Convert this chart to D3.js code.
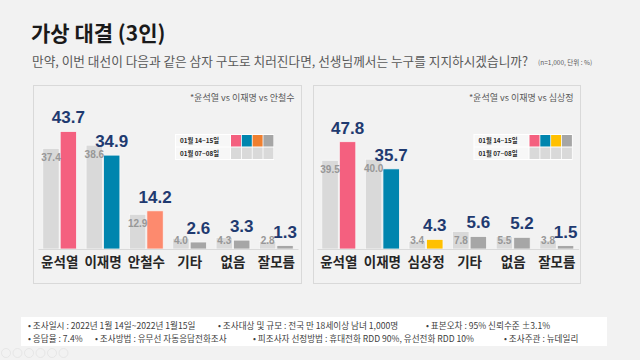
<!DOCTYPE html>
<html><head><meta charset="utf-8">
<script src="https://cdn.jsdelivr.net/npm/d3@7"></script>
<style>
html,body{margin:0;padding:0;background:#f2f2f2;}
svg{display:block;}
</style></head>
<body>
<script>
const categoriesA = ["윤석열","이재명","안철수","기타","없음","잘모름"];
const currentA = [43.7,34.9,14.2,2.6,3.3,1.3];
const previousA = [37.4,38.6,12.9,4.0,4.3,2.8];
const colorsA = ["#f4607f","#0085ae","#fd8a6e","#a6a6a6","#a6a6a6","#a6a6a6"];
const legendColorsA = ["#f4607f","#0085ae","#ef7f2f","#a6a6a6"];
const matchupA = "*윤석열 vs 이재명 vs 안철수";

const categoriesB = ["윤석열","이재명","심상정","기타","없음","잘모름"];
const currentB = [47.8,35.7,4.3,5.6,5.2,1.5];
const previousB = [39.5,40.0,3.4,7.8,5.5,3.8];
const colorsB = ["#f4607f","#0085ae","#ffc000","#a6a6a6","#a6a6a6","#a6a6a6"];
const legendColorsB = ["#f4607f","#0085ae","#ffc000","#a6a6a6"];
const matchupB = "*윤석열 vs 이재명 vs 심상정";

const legendLabels = ["01월 14~15일","01월 07~08일"];
const title = "가상 대결 (3인)";
const question = "만약, 이번 대선이 다음과 같은 삼자 구도로 치러진다면, 선생님께서는 누구를 지지하시겠습니까?";
const note = "(n=1,000, 단위 : %)";
const footer1 = [["• 조사일시 : 2022년 1월 14일~2022년 1월15일",28],["• 조사대상 및 규모 : 전국 만 18세이상  남녀  1,000명",218],["• 표본오차 : 95% 신뢰수준 ±3.1%",426]];
const footer2 = [["• 응답율 : 7.4%",28],["• 조사방법 : 유무선 자동응답전화조사",95],["• 피조사자 선정방법 : 휴대전화 RDD  90%, 유선전화 RDD  10%",253],["• 조사주관 : 뉴데일리",504]];

const KR = "'Noto Sans CJK KR','Noto Sans',sans-serif";
const NUM = "'Liberation Sans',Arial,sans-serif";

const svg = d3.select("body").append("svg").attr("width",640).attr("height",360);
svg.append("rect").attr("width",640).attr("height",360).attr("fill","#f2f2f2");

svg.append("text").attr("x",31).attr("y",41).text(title)
  .attr("font-family",KR).attr("font-weight",700).attr("font-size",21).attr("fill","#1a1a1a");
svg.append("text").attr("x",32).attr("y",66).text(question)
  .attr("font-family",KR).attr("font-size",12.6).attr("fill","#595959")
  .attr("textLength",496).attr("lengthAdjust","spacingAndGlyphs");
svg.append("text").attr("x",538).attr("y",65).text(note)
  .attr("font-family",KR).attr("font-size",6.5).attr("fill","#595959");

function panel(cfg){
  const g = svg.append("g");
  g.append("rect").attr("x",cfg.px).attr("y",85.5).attr("width",cfg.pw).attr("height",198)
    .attr("fill","#f2f2f2").attr("stroke","#d9d9d9").attr("stroke-width",1);
  g.append("text").attr("x",cfg.px+cfg.pw-7).attr("y",101).attr("text-anchor","end").text(cfg.matchup)
    .attr("font-family",KR).attr("font-size",9).attr("fill","#595959");

  const base = 249;
  const x0 = d3.scaleBand().domain(cfg.cats).range(cfg.xr).paddingInner(0.22).paddingOuter(0.11);
  const x1 = d3.scaleBand().domain(["prev","cur"]).range([0,x0.bandwidth()]).paddingInner(0.06);
  const y = d3.scaleLinear().domain([0,cfg.ymax]).range([base, base-cfg.hpx]);

  const data = cfg.cats.map((c,i)=>({c, cur:cfg.cur[i], prev:cfg.prev[i], col:cfg.colors[i]}));
  const grp = g.selectAll("g.cat").data(data).join("g").attr("class","cat")
    .attr("transform",d=>`translate(${x0(d.c)},0)`);
  grp.append("rect").attr("x",x1("prev")).attr("width",x1.bandwidth())
    .attr("y",d=>y(d.prev)).attr("height",d=>base-y(d.prev))
    .attr("fill","#d9d9d9").attr("stroke","#f7f7f7").attr("stroke-width",0.8);
  grp.append("rect").attr("x",x1("cur")).attr("width",x1.bandwidth())
    .attr("y",d=>y(d.cur)).attr("height",d=>base-y(d.cur))
    .attr("fill",d=>d.col).attr("stroke","#f7f7f7").attr("stroke-width",0.8);
  grp.append("text").attr("x",x1("prev")+x1.bandwidth()/2)
    .attr("y",d=>Math.min(y(d.prev)+13, 243.5)).attr("text-anchor","middle")
    .text(d=>d.prev.toFixed(1))
    .attr("font-family",NUM).attr("font-weight",700).attr("font-size",10).attr("fill","#979797");
  grp.append("text").attr("x",x1("cur")+x1.bandwidth()/2)
    .attr("y",d=>y(d.cur)-8).attr("text-anchor","middle")
    .text(d=>d.cur.toFixed(1))
    .attr("font-family",NUM).attr("font-weight",700).attr("font-size",17).attr("fill","#1f3a70");

  const ax = g.append("g").attr("transform",`translate(0,${base})`)
    .call(d3.axisBottom(x0).tickSize(0).tickPadding(8));
  ax.select(".domain").attr("stroke","#d9d9d9").attr("stroke-width",1);
  ax.selectAll("text").attr("font-family",KR).attr("font-weight",700).attr("font-size",13.5)
    .attr("fill","#262626");

  // legend
  const lg = g.append("g").attr("transform",`translate(${cfg.lx},134)`);
  lg.append("rect").attr("width",99).attr("height",26).attr("fill","#ffffff");
  legendLabels.forEach((t,r)=>{
    lg.append("rect").attr("x",1).attr("y",1+r*12.5).attr("width",54).attr("height",11.5).attr("fill","#f7f7f7");
    lg.append("text").attr("x",5).attr("y",9.3+r*12.5).text(t)
      .attr("font-family",KR).attr("font-weight",700).attr("font-size",6.3).attr("fill","#262626");
    cfg.legendColors.forEach((c,k)=>{
      lg.append("rect").attr("x",56+k*10.8).attr("y",1+r*12.5).attr("width",10).attr("height",11.5)
        .attr("fill", r===0 ? c : "#d9d9d9");
    });
  });
}

panel({px:33.5,pw:268,matchup:matchupA,cats:categoriesA,cur:currentA,prev:previousA,colors:colorsA,
  xr:[38,298],ymax:45,hpx:45*2.69,lx:175,legendColors:legendColorsA});
panel({px:313.5,pw:267,matchup:matchupB,cats:categoriesB,cur:currentB,prev:previousB,colors:colorsB,
  xr:[317,578.6],ymax:50,hpx:50*2.245,lx:473.5,legendColors:legendColorsB});

// footer
svg.append("rect").attr("x",21).attr("y",317).attr("width",586).attr("height",29).attr("fill","#ffffff");
footer1.forEach(([t,x])=>svg.append("text").attr("x",x).attr("y",329).text(t)
  .attr("font-family",KR).attr("font-size",8.6).attr("fill","#404040"));
footer2.forEach(([t,x])=>svg.append("text").attr("x",x).attr("y",342).text(t)
  .attr("font-family",KR).attr("font-size",8.6).attr("fill","#404040"));

// faint presenter controls
d3.range(6).forEach(i=>svg.append("circle").attr("cx",6+i*11.5).attr("cy",353).attr("r",4.5)
  .attr("fill","none").attr("stroke","#e2e2e2").attr("stroke-width",0.8));
</script>
</body></html>
